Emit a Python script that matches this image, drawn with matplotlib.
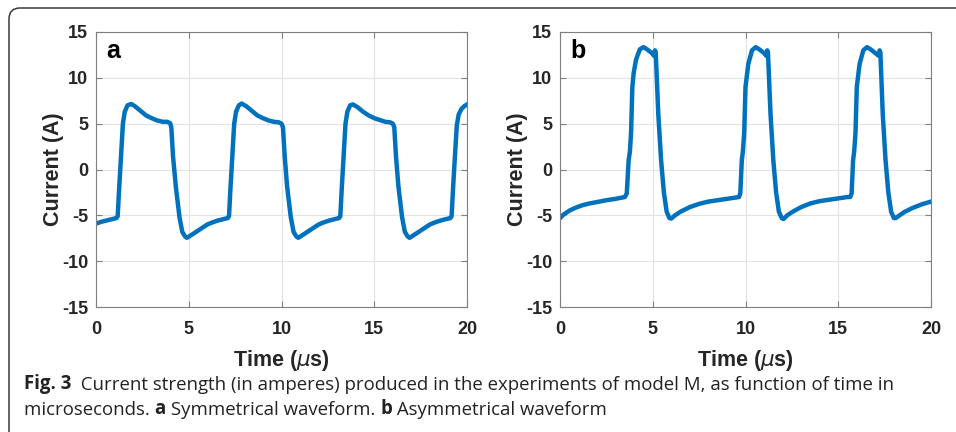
import matplotlib
matplotlib.use("Agg")
import matplotlib.pyplot as plt
from matplotlib.patches import FancyBboxPatch
from matplotlib.transforms import IdentityTransform

# ---- data (time in us, current in A) ----
t_a = [0.0, 0.3, 0.6, 0.9, 1.1, 1.17, 1.25, 1.35, 1.45, 1.55, 1.7, 1.9, 2.1, 2.4, 2.7,
       3.0, 3.3, 3.6, 3.85, 4.0, 4.06, 4.15, 4.3, 4.5, 4.65, 4.8, 4.9, 5.1, 5.4, 5.7,
       6.0, 6.3, 6.6, 6.9, 7.1,
       7.17, 7.25, 7.35, 7.45, 7.55, 7.7, 7.85, 8.1, 8.4, 8.7, 9.0, 9.3, 9.6, 9.85,
       10.0, 10.08, 10.17, 10.3, 10.5, 10.65, 10.8, 10.9, 11.1, 11.4, 11.7, 12.0,
       12.3, 12.6, 12.9, 13.1,
       13.17, 13.25, 13.35, 13.45, 13.55, 13.7, 13.85, 14.1, 14.4, 14.7, 15.0, 15.3,
       15.6, 15.85, 16.0, 16.08, 16.17, 16.3, 16.5, 16.65, 16.8, 16.9, 17.1, 17.4,
       17.7, 18.0, 18.3, 18.6, 18.9, 19.1,
       19.17, 19.25, 19.35, 19.45, 19.55, 19.7, 19.85, 20.0]
i_a = [-5.9, -5.7, -5.55, -5.4, -5.3, -5.1, -2.0, 1.5, 5.0, 6.3, 7.0, 7.15, 6.9, 6.4, 5.9,
       5.6, 5.35, 5.2, 5.2, 5.05, 4.6, 1.5, -1.8, -5.2, -6.8, -7.3, -7.45, -7.2, -6.8, -6.4,
       -6.0, -5.75, -5.55, -5.4, -5.3,
       -5.1, -2.0, 1.5, 5.0, 6.3, 7.0, 7.2, 6.9, 6.4, 5.9, 5.6, 5.35, 5.2, 5.15,
       5.0, 4.6, 1.5, -1.8, -5.2, -6.8, -7.3, -7.45, -7.2, -6.8, -6.4, -6.0,
       -5.75, -5.55, -5.4, -5.3,
       -5.1, -2.0, 1.5, 5.0, 6.3, 7.0, 7.1, 6.8, 6.3, 5.9, 5.6, 5.4,
       5.2, 5.15, 5.0, 4.6, 1.5, -1.8, -5.2, -6.8, -7.3, -7.45, -7.2, -6.8,
       -6.4, -6.0, -5.75, -5.55, -5.4, -5.3,
       -5.1, -2.0, 1.5, 4.8, 6.0, 6.6, 6.9, 7.1]

t_b = [0.0, 0.2, 0.5, 0.8, 1.2, 1.6, 2.0, 2.5, 3.0, 3.5, 3.6, 3.7, 3.77, 3.83, 3.9, 3.97,
       4.1, 4.3, 4.5, 4.7, 4.95, 5.07, 5.12, 5.16, 5.3, 5.45, 5.6, 5.75, 5.9, 6.0, 6.2,
       6.5, 7.0, 7.5, 8.0, 8.5, 9.0, 9.5,
       9.65, 9.72, 9.8, 9.86, 9.93, 10.0, 10.15, 10.35, 10.55, 10.75, 11.0, 11.12, 11.17,
       11.21, 11.35, 11.5, 11.65, 11.8, 11.95, 12.05, 12.25, 12.55, 13.0, 13.5, 14.0,
       14.5, 15.0, 15.5,
       15.65, 15.72, 15.8, 15.86, 15.93, 16.0, 16.15, 16.35, 16.55, 16.75, 17.0, 17.18,
       17.23, 17.27, 17.4, 17.55, 17.7, 17.85, 18.0, 18.1, 18.3, 18.6, 19.0, 19.5, 20.0]
i_b = [-5.3, -4.9, -4.5, -4.2, -3.9, -3.7, -3.55, -3.35, -3.2, -3.0, -2.6, 1.0, 2.0, 4.0,
       9.0, 10.5, 12.0, 13.1, 13.35, 13.1, 12.7, 12.4, 13.0, 12.8, 6.0, 1.0, -2.5, -4.6,
       -5.3, -5.35, -5.0, -4.6, -4.1, -3.75, -3.5, -3.35, -3.2, -3.05,
       -3.0, -2.6, 1.0, 2.0, 4.0, 9.0, 11.5, 13.0, 13.35, 13.1, 12.7, 12.4, 13.0,
       12.8, 6.0, 1.0, -2.5, -4.6, -5.3, -5.4, -5.0, -4.6, -4.1, -3.7, -3.45,
       -3.3, -3.15, -3.0,
       -3.0, -2.6, 1.0, 2.0, 4.0, 9.0, 11.5, 13.0, 13.35, 13.1, 12.7, 12.4,
       13.0, 12.8, 6.0, 1.0, -2.5, -4.6, -5.3, -5.3, -5.0, -4.6, -4.2, -3.8, -3.5]

x_ticks = [0, 5, 10, 15, 20]
y_ticks = [-15, -10, -5, 0, 5, 10, 15]
panels = [("a", t_a, i_a), ("b", t_b, i_b)]

LINE_COLOR = "#0072BD"
AX_COLOR = "#7f7f7f"

plt.rcParams['font.family'] = 'Liberation Sans'
plt.rcParams['mathtext.fontset'] = 'dejavusans'
plt.rcParams['axes.unicode_minus'] = False

fig = plt.figure(figsize=(9.56, 4.32), dpi=100)

lefts = [96 / 956, 560 / 956]
w = 371 / 956
bottom = 1 - 307 / 432
h = 275 / 432

axes = []
for (letter, t, cur), left in zip(panels, lefts):
    ax = fig.add_axes([left, bottom, w, h])
    ax.plot(t, cur, color=LINE_COLOR, lw=3.2, solid_joinstyle='round')
    ax.set_xlim(0, 20)
    ax.set_ylim(-15, 15)
    ax.set_xticks(x_ticks)
    ax.set_yticks(y_ticks)
    ax.grid(True, color="#e3e3e3", lw=0.8)
    ax.set_axisbelow(True)
    ax.tick_params(direction='in', length=4, width=0.8, color=AX_COLOR,
                   labelsize=13, top=True, right=True,
                   labeltop=False, labelright=False)
    ax.tick_params(axis='x', pad=10)
    ax.tick_params(axis='y', pad=5.5)
    for lab in ax.get_xticklabels() + ax.get_yticklabels():
        lab.set_fontweight('bold')
        lab.set_color('#262626')
    for sp in ax.spines.values():
        sp.set_color(AX_COLOR)
        sp.set_linewidth(0.8)
    ax.set_xlabel(r'Time ($\mu$s)', fontsize=15.5, fontweight='bold',
                  color='#262626', labelpad=7)
    ax.set_ylabel('Current (A)', fontsize=15.5, fontweight='bold',
                  color='#262626', labelpad=-1)
    ax.text(0.028, 0.905, letter, transform=ax.transAxes, fontsize=18,
            fontweight='bold', ha='left', va='baseline')
    axes.append(ax)

# frame around the figure (only top and left edges visible)
frame = FancyBboxPatch((9, -60), 1100, 484, boxstyle="round,pad=0,rounding_size=11",
                       transform=IdentityTransform(), fill=False,
                       ec="#3a3a3a", lw=1.1)
fig.add_artist(frame)

# caption
cap_font = 'Open Sans'
cap_size = 13.4
cap_color = '#222222'
t1 = fig.text(24 / 956, 1 - 389 / 432, 'Fig. 3', fontfamily=cap_font,
              fontsize=cap_size, fontweight='bold', color=cap_color,
              ha='left', va='baseline')
axes[0].annotate('  Current strength (in amperes) produced in the experiments of model M, '
                 'as function of time in', xy=(1, 0), xycoords=t1,
                 fontfamily=cap_font, fontsize=cap_size, color=cap_color,
                 ha='left', va='bottom')

pieces = [('microseconds. ', 'normal'), ('a', 'bold'), (' Symmetrical waveform. ', 'normal'),
          ('b', 'bold'), (' Asymmetrical waveform', 'normal')]
prev = fig.text(24 / 956, 1 - 415 / 432, pieces[0][0], fontfamily=cap_font,
                fontsize=cap_size, color=cap_color, ha='left', va='baseline')
for txt, wt in pieces[1:]:
    prev = axes[0].annotate(txt, xy=(1, 0), xycoords=prev, fontfamily=cap_font,
                            fontsize=cap_size, fontweight=wt, color=cap_color,
                            ha='left', va='bottom')

fig.savefig('out.png', dpi=100)
